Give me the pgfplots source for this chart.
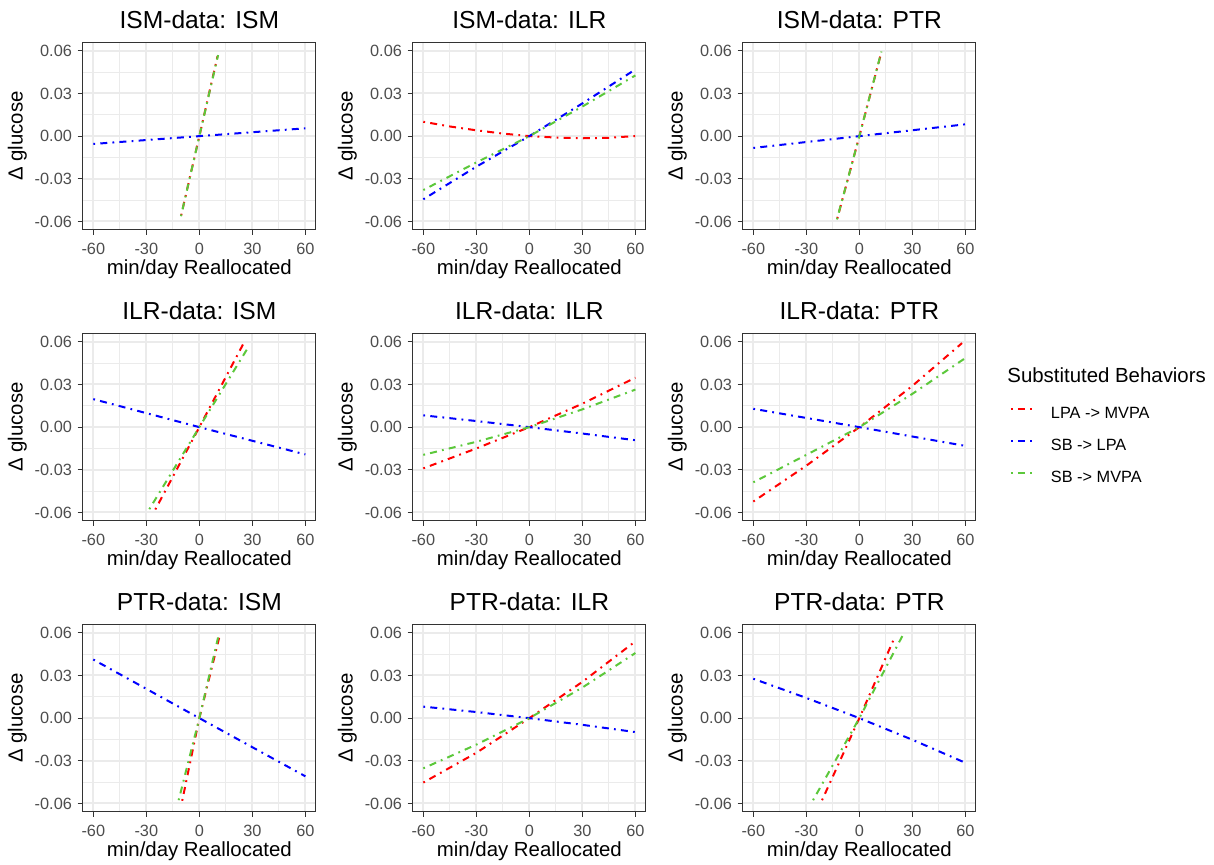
\documentclass[border=0pt]{standalone}
\usepackage{fontspec}
\setmainfont{Liberation Sans}
\usepackage{pgfplots}
\pgfplotsset{compat=1.18}
\definecolor{cred}{HTML}{FF0000}
\definecolor{cblue}{HTML}{0000FF}
\definecolor{cgreen}{HTML}{5CC83B}
\definecolor{gridc}{HTML}{EBEBEB}
\definecolor{grey20}{HTML}{333333}
\definecolor{grey30}{HTML}{4D4D4D}
\pgfplotsset{
  panel/.style={
    scale only axis, width=116.65pt, height=93.85pt,
    xmin=-66, xmax=66, ymin=-0.066, ymax=0.066,
    scaled x ticks=false, scaled y ticks=false,
    xtick={-60,-30,0,30,60}, xticklabels={-60,-30,0,30,60},
    ytick={-0.06,-0.03,0,0.03,0.06}, yticklabels={-0.06,-0.03,0.00,0.03,0.06},
    minor xtick={-45,-15,15,45}, minor ytick={-0.045,-0.015,0.015,0.045},
    grid=both,
    major grid style={draw=gridc, line width=1pt},
    minor grid style={draw=gridc, line width=0.5pt},
    axis line style={draw=grey20, line width=0.5pt},
    tick align=outside, xtick pos=bottom, ytick pos=left,
    major tick length=2.5pt, minor tick length=0pt,
    major tick style={draw=grey20, line width=0.5pt},
    minor tick style={draw=none},
    xticklabel style={font=\fontsize{8.15}{9}\selectfont, text=grey30, inner sep=0pt, anchor=north, yshift=-3.8pt},
    yticklabel style={font=\fontsize{8.15}{9}\selectfont, text=grey30, inner sep=0pt, anchor=east, xshift=-2.7pt},
    xlabel={min/day Reallocated},
    ylabel={Δ glucose},
    xlabel style={font=\fontsize{10.2}{12}\selectfont, at={(axis description cs:0.5,0)}, anchor=base, yshift=-22.5pt, inner sep=0pt},
    ylabel style={font=\fontsize{10.2}{12}\selectfont, at={(axis description cs:0,0.5)}, anchor=base, yshift=30pt, inner sep=0pt},
    title style={font=\fontsize{12.3}{14}\selectfont, at={(axis description cs:0.5,1)}, anchor=base, yshift=1pt, inner sep=0pt},
    every axis plot/.append style={line width=1pt, dash pattern=on 0.9pt off 2.6pt on 3.5pt off 2.6pt, no marks},
    anchor=south west,
  }
}
\begin{document}
\begin{tikzpicture}
\useasboundingbox (0,0) rectangle (607pt,432.5pt);
% Row 1
\begin{axis}[panel, at={(41.35pt,317.5pt)}, title={ISM-data: ISM}]
\addplot[cred] coordinates {(-10.3,-0.0558) (0,0) (10.3,0.0562)};
\addplot[cblue] coordinates {(-60,-0.0055) (0,0) (60,0.0055)};
\addplot[cgreen] coordinates {(-10.4,-0.0563) (0,0) (10.6,0.0570)};
\end{axis}
\begin{axis}[panel, at={(206.35pt,317.5pt)}, title={ISM-data: ILR}]
\addplot[cred] coordinates {(-60,0.0101) (-45,0.0068) (-30,0.0041) (-15,0.0018) (0,0) (15,-0.0010) (30,-0.0015) (45,-0.0012) (60,0.0001)};
\addplot[cblue] coordinates {(-60,-0.0444) (-30,-0.0215) (0,0) (30,0.0230) (60,0.0469)};
\addplot[cgreen] coordinates {(-60,-0.0379) (-30,-0.0185) (0,0) (30,0.0208) (60,0.0427)};
\end{axis}
\begin{axis}[panel, at={(371.35pt,317.5pt)}, title={ISM-data: PTR}]
\addplot[cred] coordinates {(-12.5,-0.0580) (0,0) (12.2,0.0578)};
\addplot[cblue] coordinates {(-60,-0.0083) (0,0) (60,0.0083)};
\addplot[cgreen] coordinates {(-12.7,-0.0586) (0,0) (12.5,0.0595)};
\end{axis}
% Row 2
\begin{axis}[panel, at={(41.35pt,172pt)}, title={ILR-data: ISM}]
\addplot[cred] coordinates {(-24.9,-0.0579) (0,0) (24.9,0.0586)};
\addplot[cblue] coordinates {(-60,0.0197) (0,0) (60,-0.0192)};
\addplot[cgreen] coordinates {(-28.3,-0.0577) (0,0) (27.5,0.0558)};
\end{axis}
\begin{axis}[panel, at={(206.35pt,172pt)}, title={ILR-data: ILR}]
\addplot[cred] coordinates {(-60,-0.0290) (-30,-0.0150) (0,0) (30,0.0165) (60,0.0348)};
\addplot[cblue] coordinates {(-60,0.0083) (-30,0.0043) (0,0) (30,-0.0045) (60,-0.0092)};
\addplot[cgreen] coordinates {(-60,-0.0195) (-30,-0.0103) (0,0) (30,0.0125) (60,0.0264)};
\end{axis}
\begin{axis}[panel, at={(371.35pt,172pt)}, title={ILR-data: PTR},
  legend style={at={(axis description cs:1.1457,0.611)}, anchor=north west, draw=none, fill=none,
    inner sep=0pt, outer sep=0pt, row sep=8pt, column sep=7.5pt,
    nodes={inner sep=0pt, text height=6pt, text depth=2pt, font=\fontsize{8.15}{9}\selectfont}, cells={anchor=west}},
  legend image code/.code={\draw[#1] (0pt,2.9pt) -- (12pt,2.9pt);}]
\addplot[cred] coordinates {(-60,-0.0523) (-30,-0.0271) (0,0) (30,0.0290) (58.1,0.0591)};
\addplot[cblue] coordinates {(-60,0.0129) (0,0) (60,-0.0132)};
\addplot[cgreen] coordinates {(-60,-0.0388) (-30,-0.0195) (0,0) (30,0.0234) (60,0.0486)};
\legend{LPA -> MVPA, SB -> LPA, SB -> MVPA}
\end{axis}
% Row 3
\begin{axis}[panel, at={(41.35pt,26.5pt)}, title={PTR-data: ISM}]
\addplot[cred] coordinates {(-9.7,-0.0581) (0,0) (11.2,0.0565)};
\addplot[cblue] coordinates {(-60,0.0412) (0,0) (60,-0.0409)};
\addplot[cgreen] coordinates {(-11.7,-0.0577) (0,0) (10.6,0.0567)};
\end{axis}
\begin{axis}[panel, at={(206.35pt,26.5pt)}, title={PTR-data: ILR}]
\addplot[cred] coordinates {(-60,-0.0453) (-30,-0.0244) (0,0) (30,0.0255) (60,0.0540)};
\addplot[cblue] coordinates {(-60,0.0081) (-30,0.0043) (0,0) (30,-0.0047) (60,-0.0098)};
\addplot[cgreen] coordinates {(-60,-0.0353) (-30,-0.0186) (0,0) (30,0.0215) (60,0.0458)};
\end{axis}
\begin{axis}[panel, at={(371.35pt,26.5pt)}, title={PTR-data: PTR}]
\addplot[cred] coordinates {(-21.1,-0.0577) (0,0) (19.1,0.0544)};
\addplot[cblue] coordinates {(-60,0.0277) (-30,0.0142) (0,0) (30,-0.0152) (60,-0.0314)};
\addplot[cgreen] coordinates {(-26.2,-0.0577) (0,0) (24.9,0.0591)};
\end{axis}
\node[anchor=base west, inner sep=0pt, font=\fontsize{10.2}{12}\selectfont] at (503.5pt,241.35pt) {Substituted Behaviors};
\end{tikzpicture}
\end{document}
